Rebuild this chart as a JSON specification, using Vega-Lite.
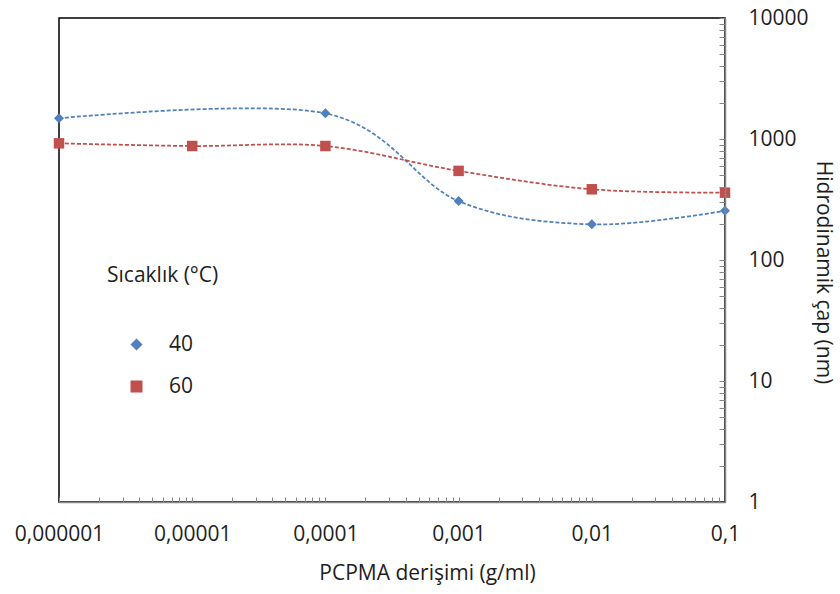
{
  "$schema": "https://vega.github.io/schema/vega-lite/v6.json",
  "autosize": "none",
  "padding": {"left": 59, "top": 18, "right": 115, "bottom": 92},
  "width": 666,
  "height": 484,
  "background": "white",
  "config": {
    "view": {"stroke": "#000000", "strokeWidth": 1.5},
    "font": "Open Sans"
  },
  "data": {
    "values": [
      {"c": 0.000001, "d": 1483, "s": "40"},
      {"c": 0.0001, "d": 1629, "s": "40"},
      {"c": 0.001, "d": 307, "s": "40"},
      {"c": 0.01, "d": 197, "s": "40"},
      {"c": 0.1, "d": 255, "s": "40"},
      {"c": 0.000001, "d": 921, "s": "60"},
      {"c": 0.00001, "d": 875, "s": "60"},
      {"c": 0.0001, "d": 875, "s": "60"},
      {"c": 0.001, "d": 545, "s": "60"},
      {"c": 0.01, "d": 384, "s": "60"},
      {"c": 0.1, "d": 360, "s": "60"}
    ]
  },
  "encoding": {
    "x": {
      "field": "c",
      "type": "quantitative",
      "scale": {"type": "log", "domain": [0.000001, 0.1], "nice": false},
      "axis": {
        "title": "PCPMA derişimi (g/ml)",
        "values": [1e-6, 2e-6, 3e-6, 4e-6, 5e-6, 6e-6, 7e-6, 8e-6, 9e-6, 1e-5, 2e-5, 3e-5, 4e-5, 5e-5, 6e-5, 7e-5, 8e-5, 9e-5, 1e-4, 2e-4, 3e-4, 4e-4, 5e-4, 6e-4, 7e-4, 8e-4, 9e-4, 0.001, 0.002, 0.003, 0.004, 0.005, 0.006, 0.007, 0.008, 0.009, 0.01, 0.02, 0.03, 0.04, 0.05, 0.06, 0.07, 0.08, 0.09, 0.1],
        "labelExpr": "abs(log(datum.value)/LN10 - round(log(datum.value)/LN10)) < 0.001 ? replace(format(datum.value, '.6~f'), '.', ',') : ''",
        "labelOverlap": false,
        "labelFlush": false,
        "labelBound": false,
        "grid": false,
        "tickSize": -5,
        "tickColor": "#868686",
        "domainColor": "#868686",
        "domainWidth": 1.5,
        "labelFontSize": 21,
        "labelColor": "#1e1e1e",
        "labelPadding": 26,
        "titleFontSize": 21,
        "titleFontWeight": "normal",
        "titleColor": "#1e1e1e",
        "titlePadding": 18,
        "titleX": 368,
        "zindex": 1
      }
    },
    "y": {
      "field": "d",
      "type": "quantitative",
      "scale": {"type": "log", "domain": [1, 10000], "nice": false},
      "axis": {
        "orient": "right",
        "title": "Hidrodinamik çap (nm)",
        "values": [1, 2, 3, 4, 5, 6, 7, 8, 9, 10, 20, 30, 40, 50, 60, 70, 80, 90, 100, 200, 300, 400, 500, 600, 700, 800, 900, 1000, 2000, 3000, 4000, 5000, 6000, 7000, 8000, 9000, 10000],
        "labelExpr": "abs(log(datum.value)/LN10 - round(log(datum.value)/LN10)) < 0.001 ? format(datum.value, 'd') : ''",
        "labelOverlap": false,
        "labelFlush": false,
        "labelBound": false,
        "grid": false,
        "tickSize": -6,
        "tickColor": "#868686",
        "domainColor": "#868686",
        "domainWidth": 1.5,
        "labelFontSize": 21,
        "labelColor": "#1e1e1e",
        "labelAlign": "left",
        "labelPadding": 29,
        "titleFontSize": 21,
        "titleFontWeight": "normal",
        "titleColor": "#1e1e1e",
        "titleAngle": 90,
        "titleAlign": "center",
        "titleBaseline": "middle",
        "titleX": 97,
        "titleY": 254,
        "zindex": 1
      }
    }
  },
  "layer": [
    {
      "mark": {"type": "line", "interpolate": "cardinal", "strokeDash": [4, 2], "strokeWidth": 1.75},
      "encoding": {
        "color": {
          "field": "s",
          "type": "nominal",
          "scale": {"domain": ["40", "60"], "range": ["#4F81BD", "#C0504D"]}
        }
      }
    },
    {
      "mark": {"type": "point", "filled": true, "opacity": 1},
      "encoding": {
        "color": {
          "field": "s",
          "type": "nominal",
          "legend": {
            "orient": "none",
            "legendX": 48,
            "legendY": 247,
            "title": "Sıcaklık (°C)",
            "titleFontSize": 21,
            "titleFontWeight": "normal",
            "titleColor": "#1e1e1e",
            "titlePadding": 48,
            "labelFontSize": 21,
            "labelColor": "#1e1e1e",
            "labelOffset": 22,
            "symbolOffset": 19,
            "rowPadding": 20,
            "symbolSize": 90
          }
        },
        "shape": {
          "field": "s",
          "type": "nominal",
          "scale": {"domain": ["40", "60"], "range": ["diamond", "square"]},
          "legend": null
        },
        "size": {
          "field": "s",
          "type": "nominal",
          "scale": {"domain": ["40", "60"], "range": [100, 110]},
          "legend": null
        }
      }
    }
  ]
}
